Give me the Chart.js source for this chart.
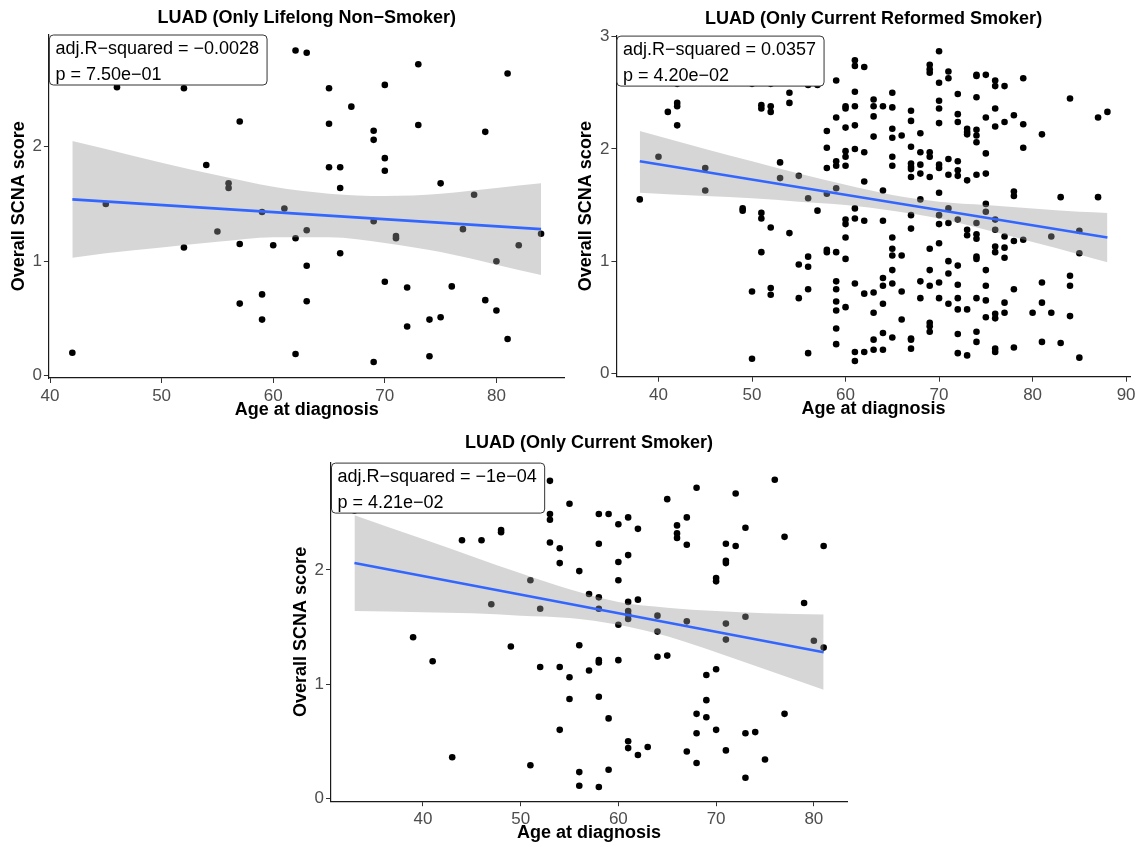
<!DOCTYPE html>
<html>
<head>
<meta charset="utf-8">
<script src="https://cdn.jsdelivr.net/npm/chart.js@4.4.1/dist/chart.umd.min.js"></script>
<style>
  html, body { margin: 0; padding: 0; background: #fff; }
  #wrap { position: relative; width: 1141px; height: 847px; }
  #wrap canvas { position: absolute; left: 0; top: 0; }
</style>
</head>
<body>
<div id="wrap">
  <canvas id="panel1" width="1141" height="847"></canvas>
  <canvas id="panel2" width="1141" height="847"></canvas>
  <canvas id="panel3" width="1141" height="847"></canvas>
</div>
<script>
// --- Lifelong non-smoker ---
const ages1 = [42, 45, 46, 52, 52, 54, 55, 56, 56, 57, 57, 57, 59, 59, 59, 60, 61, 62, 62, 62,
  63, 63, 63, 63, 65, 65, 65, 66, 66, 66, 67, 69, 69, 69, 69, 70, 70, 70, 70, 71, 71, 72, 72,
  73, 73, 74, 74, 75, 75, 76, 77, 78, 79, 79, 80, 80, 81, 81, 82, 84];
const scores1 = [0.20, 1.50, 2.52, 2.51, 1.12, 1.84, 1.26, 1.68, 1.64, 2.22, 1.15, 0.63, 1.43, 0.71, 0.49, 1.14, 1.46, 2.84, 1.20, 0.19,
  2.82, 1.27, 0.96, 0.65, 2.51, 2.20, 1.82, 1.82, 1.64, 1.07, 2.35, 2.14, 2.06, 1.35, 0.12, 2.54, 1.90, 1.79, 0.82, 1.22, 1.20, 0.77, 0.43,
  2.72, 2.19, 0.49, 0.17, 1.68, 0.51, 0.78, 1.28, 1.58, 2.13, 0.66, 1.00, 0.57, 2.64, 0.32, 1.14, 1.24];
const lineAge1 = [42, 84];
const lineFit1 = [1.54, 1.28];
const bandAge1 = [42, 45, 50, 55, 60, 65, 70, 75, 80, 84];
const bandUpper1 = [2.05, 1.98, 1.86, 1.75, 1.65, 1.59, 1.57, 1.59, 1.64, 1.68];
const bandLower1 = [1.03, 1.07, 1.12, 1.17, 1.21, 1.21, 1.16, 1.08, 0.97, 0.88];
const xTicks1 = [40, 50, 60, 70, 80];
const yTicks1 = [0, 1, 2];
const stats1 = ['adj.R\u2212squared = \u22120.0028', 'p = 7.50e\u221201'];

// --- Current reformed smoker ---
const ages2 = [
  38,
  40,
  41,
  42, 42, 42, 42,
  45, 45,
  49, 49,
  50, 50, 50,
  51, 51, 51, 51, 51,
  52, 52, 52, 52, 52, 52,
  53, 53,
  54, 54, 54,
  55, 55, 55,
  56, 56, 56, 56, 56, 56,
  57, 57,
  58, 58, 58, 58, 58, 58,
  59, 59, 59, 59, 59, 59, 59, 59, 59, 59, 59, 59,
  60, 60, 60, 60, 60, 60, 60, 60, 60, 60, 60,
  61, 61, 61, 61, 61, 61, 61, 61, 61, 61, 61,
  62, 62, 62, 62, 62, 62,
  63, 63, 63, 63, 63, 63, 63, 63,
  64, 64, 64, 64, 64, 64, 64, 64,
  65, 65, 65, 65, 65, 65, 65, 65, 65, 65, 65, 65,
  66, 66, 66, 66,
  67, 67, 67, 67, 67, 67, 67, 67, 67, 67, 67, 67,
  68, 68, 68, 68, 68, 68, 68,
  69, 69, 69, 69, 69, 69, 69, 69, 69, 69, 69, 69,
  70, 70, 70, 70, 70, 70, 70, 70, 70, 70, 70, 70, 70,
  71, 71, 71, 71, 71, 71, 71, 71, 71,
  72, 72, 72, 72, 72, 72, 72, 72, 72, 72, 72, 72, 72,
  73, 73, 73, 73, 73, 73, 73, 73,
  74, 74, 74, 74, 74, 74, 74, 74, 74, 74, 74, 74, 74, 74, 74,
  75, 75, 75, 75, 75, 75, 75, 75, 75, 75,
  76, 76, 76, 76, 76, 76, 76, 76, 76, 76, 76, 76,
  77, 77, 77, 77, 77, 77, 77,
  78, 78, 78, 78, 78, 78,
  79, 79, 79, 79,
  80,
  81, 81, 81, 81,
  82, 82,
  83, 83,
  84, 84, 84, 84,
  85, 85, 85,
  87, 87,
  88
];
const scores2 = [
  1.55,
  1.93,
  2.33,
  2.58, 2.41, 2.38, 2.21,
  1.83, 1.63,
  1.47, 1.45,
  2.58, 0.73, 0.13,
  2.39, 2.36, 1.43, 1.38, 1.08,
  2.58, 2.38, 2.33, 1.30, 0.76, 0.70,
  1.88, 1.74,
  2.50, 2.41, 1.25,
  1.76, 0.97, 0.67,
  2.57, 1.56, 1.04, 0.95, 0.75, 0.18,
  2.57, 1.45,
  2.16, 2.01, 1.83, 1.60, 1.10, 1.08,
  2.61, 2.28, 1.89, 1.85, 1.65, 1.08, 0.82, 0.75, 0.64, 0.56, 0.40, 0.26,
  2.38, 2.36, 2.19, 1.98, 1.93, 1.85, 1.37, 1.33, 1.21, 1.02, 0.59,
  2.79, 2.74, 2.51, 2.38, 2.21, 2.00, 1.47, 1.38, 0.80, 0.19, 0.11,
  2.73, 1.97, 1.71, 1.36, 0.71, 0.19,
  2.44, 2.38, 2.29, 2.11, 0.72, 0.54, 0.30, 0.21,
  2.38, 1.63, 1.36, 0.85, 0.78, 0.62, 0.36, 0.21,
  2.50, 2.37, 2.18, 2.10, 1.93, 1.85, 1.21, 1.11, 1.05, 0.92, 0.80, 0.32,
  2.12, 1.05, 0.73, 0.48,
  2.34, 2.25, 2.02, 1.87, 1.84, 1.82, 1.75, 1.41, 1.29, 0.31, 0.30, 0.22,
  2.14, 1.97, 1.86, 1.78, 1.55, 0.82, 0.67,
  2.75, 2.71, 2.68, 1.97, 1.93, 1.75, 1.11, 0.92, 0.78, 0.45, 0.42, 0.37,
  2.87, 2.59, 2.43, 2.36, 2.23, 1.86, 1.83, 1.61, 1.41, 1.33, 1.16, 0.81, 0.67,
  2.69, 2.63, 1.91, 1.77, 1.47, 1.34, 1.00, 0.89, 0.62,
  2.49, 2.31, 2.24, 1.89, 1.81, 1.76, 1.37, 0.96, 0.79, 0.67, 0.57, 0.35, 0.18,
  2.18, 2.15, 2.13, 1.72, 1.28, 1.23, 0.57, 0.16,
  2.66, 2.65, 2.46, 2.17, 2.12, 2.06, 1.77, 1.34, 1.24, 1.20, 1.04, 1.02, 0.67, 0.37, 0.28,
  2.66, 2.28, 1.96, 1.78, 1.51, 1.44, 0.92, 0.78, 0.65, 0.50,
  2.61, 2.56, 2.36, 2.20, 1.37, 1.28, 1.13, 1.08, 0.53, 0.49, 0.22, 0.19,
  2.56, 2.24, 1.22, 1.12, 1.03, 0.63, 0.54,
  2.30, 1.62, 1.58, 1.18, 0.75, 0.23,
  2.63, 2.22, 2.01, 1.19,
  0.54,
  2.13, 0.81, 0.63, 0.28,
  1.22, 0.54,
  1.57, 0.27,
  2.45, 0.87, 0.78, 0.51,
  1.27, 1.07, 0.14,
  2.28, 1.57,
  2.33
];
const lineAge2 = [38, 88];
const lineFit2 = [1.89, 1.21];
const bandAge2 = [38, 45, 50, 55, 60, 65, 70, 75, 80, 85, 88];
const bandUpper2 = [2.16, 2.00, 1.89, 1.78, 1.68, 1.59, 1.53, 1.50, 1.47, 1.44, 1.43];
const bandLower2 = [1.61, 1.58, 1.56, 1.53, 1.50, 1.45, 1.38, 1.28, 1.17, 1.06, 0.99];
const xTicks2 = [40, 50, 60, 70, 80, 90];
const yTicks2 = [0, 1, 2, 3];
const stats2 = ['adj.R\u2212squared = 0.0357', 'p = 4.20e\u221202'];

// --- Current smoker ---
const ages3 = [33, 39, 41, 43, 44, 46, 47, 48, 48, 49, 51, 51, 52, 52,
  53, 53, 53, 53, 54, 54, 54, 54, 55, 55, 55, 56, 56, 56, 56, 57, 57,
  58, 58, 58, 58, 58, 58, 58, 58, 59, 59, 59, 60, 60, 60, 60, 60,
  61, 61, 61, 61, 61, 61, 61, 61, 62, 62, 62, 63, 64, 64, 64, 65, 65,
  66, 66, 66, 67, 67, 67, 67, 68, 68, 68, 68, 69, 69, 69, 70, 70, 70, 70,
  71, 71, 71, 71, 71, 71, 72, 72, 73, 73, 73, 73, 74, 75, 76, 77, 77, 79, 80, 81, 81];
const scores3 = [2.52, 1.41, 1.20, 0.36, 2.26, 2.26, 1.70, 2.35, 2.33, 1.33, 1.91, 0.29, 1.66, 1.15,
  2.78, 2.49, 2.44, 2.24, 2.19, 2.06, 1.15, 0.60, 2.58, 1.06, 0.87, 1.99, 1.34, 0.23, 0.11, 1.79, 1.12,
  2.49, 2.23, 1.76, 1.66, 1.21, 1.19, 0.89, 0.10, 2.49, 0.70, 0.25, 2.40, 2.07, 1.91, 1.52, 1.21,
  2.46, 2.13, 1.72, 1.64, 1.61, 1.57, 0.50, 0.44, 2.36, 1.74, 0.38, 0.45, 1.60, 1.46, 1.24, 2.62, 1.25,
  2.39, 2.32, 2.28, 2.46, 2.22, 1.55, 0.41, 2.72, 0.74, 0.57, 0.31, 1.08, 0.86, 0.71, 1.93, 1.90, 1.13, 0.60,
  2.23, 2.08, 2.06, 1.53, 1.39, 0.42, 2.67, 2.21, 2.37, 1.59, 0.57, 0.18, 0.58, 0.34, 2.79, 2.29, 0.74, 1.71, 1.38, 2.21, 1.32];
const lineAge3 = [33, 81];
const lineFit3 = [2.06, 1.28];
const bandAge3 = [33, 40, 45, 50, 55, 60, 65, 70, 75, 81];
const bandUpper3 = [2.48, 2.27, 2.12, 1.97, 1.83, 1.72, 1.67, 1.64, 1.62, 1.61];
const bandLower3 = [1.64, 1.63, 1.62, 1.60, 1.58, 1.52, 1.42, 1.28, 1.13, 0.95];
const xTicks3 = [40, 50, 60, 70, 80];
const yTicks3 = [0, 1, 2];
const stats3 = ['adj.R\u2212squared = \u22121e\u221204', 'p = 4.21e\u221202'];

const PAGE_W = 1141, PAGE_H = 847;
const Y_AXIS_W = 40.8, X_AXIS_H = 42.8;
const FONT = '"Liberation Sans", Arial, Helvetica, sans-serif';

Chart.defaults.font.family = FONT;
Chart.defaults.devicePixelRatio = 1;

// white label box with the fit statistics, pinned to the top-left of the panel
const statBox = {
  id: 'statBox',
  afterDraw(chart, args, opts) {
    const ctx = chart.ctx;
    const a = chart.chartArea;
    ctx.save();
    ctx.font = '18px ' + FONT;
    const w = Math.max(...opts.lines.map(t => ctx.measureText(t).width)) + 14;
    const x = a.left + 0.5, y = a.top + 0.5;
    ctx.beginPath();
    ctx.roundRect(x, y, w, 50, 4);
    ctx.fillStyle = '#fff';
    ctx.fill();
    ctx.strokeStyle = '#333';
    ctx.lineWidth = 1;
    ctx.stroke();
    ctx.fillStyle = '#000';
    ctx.textBaseline = 'middle';
    ctx.textAlign = 'left';
    ctx.fillText(opts.lines[0], x + 6, y + 14);
    ctx.fillText(opts.lines[1], x + 6, y + 40);
    ctx.restore();
  }
};

function toPoints(xs, ys) {
  return xs.map((x, i) => ({ x: x, y: ys[i] }));
}

function makePanel(id, p) {
  const a = p.area;
  return new Chart(document.getElementById(id), {
    type: 'scatter',
    data: {
      datasets: [
        {
          type: 'line',
          data: toPoints(p.lineX, p.lineY),
          borderColor: '#3366FF',
          borderWidth: 2.6,
          pointRadius: 0,
          fill: false,
          order: 0
        },
        {
          type: 'line',
          data: toPoints(p.bandX, p.bandHi),
          borderColor: 'rgba(0,0,0,0)',
          borderWidth: 0,
          pointRadius: 0,
          fill: '+1',
          backgroundColor: 'rgba(153,153,153,0.4)',
          cubicInterpolationMode: 'monotone',
          order: 1
        },
        {
          type: 'line',
          data: toPoints(p.bandX, p.bandLo),
          borderColor: 'rgba(0,0,0,0)',
          borderWidth: 0,
          pointRadius: 0,
          fill: false,
          cubicInterpolationMode: 'monotone',
          order: 1
        },
        {
          type: 'scatter',
          data: toPoints(p.ages, p.scores),
          pointRadius: 3.3,
          pointHoverRadius: 3.3,
          backgroundColor: '#000',
          borderWidth: 0,
          order: 2
        }
      ]
    },
    options: {
      responsive: false,
      animation: false,
      events: [],
      layout: {
        padding: {
          left: a.left - Y_AXIS_W,
          right: PAGE_W - a.right,
          top: p.titleY - 10.8,
          bottom: PAGE_H - a.bottom - X_AXIS_H
        }
      },
      scales: {
        x: {
          type: 'linear',
          bounds: 'data',
          min: p.xMin,
          max: p.xMax,
          afterBuildTicks: s => { s.ticks = p.xTicks.map(v => ({ value: v })); },
          afterFit: s => { s.height = X_AXIS_H; },
          ticks: { font: { size: 17 }, color: '#4d4d4d', padding: 3, maxRotation: 0 },
          grid: { drawOnChartArea: false, drawTicks: true, tickLength: 5, color: '#333', lineWidth: 1 },
          border: { display: true, color: '#1a1a1a', width: 1.2 },
          title: { display: true, text: 'Age at diagnosis', font: { size: 18, weight: 'bold' }, color: '#000', padding: 0 }
        },
        y: {
          type: 'linear',
          bounds: 'data',
          min: p.yMin,
          max: p.yMax,
          afterBuildTicks: s => { s.ticks = p.yTicks.map(v => ({ value: v })); },
          afterFit: s => { s.width = Y_AXIS_W; },
          ticks: { font: { size: 17 }, color: '#4d4d4d', padding: 2 },
          grid: { drawOnChartArea: false, drawTicks: true, tickLength: 5, color: '#333', lineWidth: 1 },
          border: { display: true, color: '#1a1a1a', width: 1.2 },
          title: { display: true, text: 'Overall SCNA score', font: { size: 18, weight: 'bold' }, color: '#000', padding: 0 }
        }
      },
      plugins: {
        legend: { display: false },
        tooltip: { enabled: false },
        title: {
          display: true,
          text: p.title,
          fullSize: false,
          font: { size: 18, weight: 'bold' },
          color: '#000',
          padding: { top: 0, bottom: a.top - p.titleY - 10.8 }
        },
        statBox: { lines: p.stats }
      }
    },
    plugins: [statBox]
  });
}

makePanel('panel1', {
  title: 'LUAD (Only Lifelong Non\u2212Smoker)', titleY: 18.5,
  area: { left: 48.9, right: 564.5, top: 34.5, bottom: 378 },
  xMin: 39.9, xMax: 86.1, yMin: -0.02, yMax: 2.98,
  xTicks: xTicks1, yTicks: yTicks1,
  ages: ages1, scores: scores1,
  lineX: lineAge1, lineY: lineFit1,
  bandX: bandAge1, bandHi: bandUpper1, bandLo: bandLower1,
  stats: stats1
});

makePanel('panel2', {
  title: 'LUAD (Only Current Reformed Smoker)', titleY: 19,
  area: { left: 616.4, right: 1130.8, top: 35.6, bottom: 376.7 },
  xMin: 35.5, xMax: 90.5, yMin: -0.03, yMax: 3.01,
  xTicks: xTicks2, yTicks: yTicks2,
  ages: ages2, scores: scores2,
  lineX: lineAge2, lineY: lineFit2,
  bandX: bandAge2, bandHi: bandUpper2, bandLo: bandLower2,
  stats: stats2
});

makePanel('panel3', {
  title: 'LUAD (Only Current Smoker)', titleY: 443,
  area: { left: 331, right: 847.1, top: 462.6, bottom: 801.2 },
  xMin: 30.6, xMax: 83.4, yMin: -0.025, yMax: 2.94,
  xTicks: xTicks3, yTicks: yTicks3,
  ages: ages3, scores: scores3,
  lineX: lineAge3, lineY: lineFit3,
  bandX: bandAge3, bandHi: bandUpper3, bandLo: bandLower3,
  stats: stats3
});
</script>
</body>
</html>
